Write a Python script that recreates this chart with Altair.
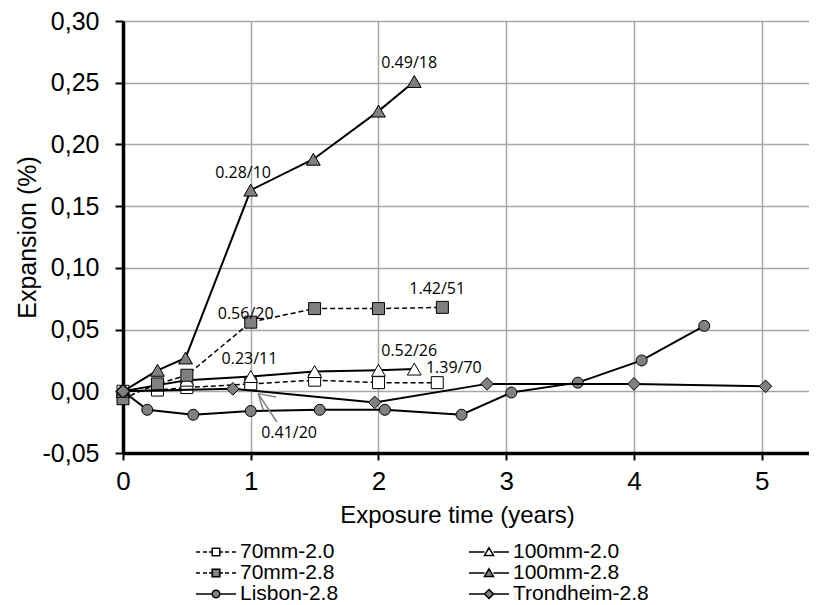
import altair as alt
import pandas as pd

# ---------------- data ----------------
series_names = ["70mm-2.0", "100mm-2.0", "70mm-2.8", "100mm-2.8", "Lisbon-2.8", "Trondheim-2.8"]

t_70mm_20 = [0.0, 0.27, 0.5, 1.0, 1.5, 2.0, 2.46]
e_70mm_20 = [0.000, 0.001, 0.003, 0.006, 0.009, 0.007, 0.007]

t_100mm_20 = [0.0, 0.27, 0.5, 1.0, 1.5, 2.0, 2.28]
e_100mm_20 = [0.000, 0.005, 0.009, 0.012, 0.016, 0.017, 0.018]

t_70mm_28 = [0.0, 0.27, 0.5, 1.0, 1.5, 2.0, 2.5]
e_70mm_28 = [-0.006, 0.006, 0.013, 0.056, 0.067, 0.067, 0.068]

t_100mm_28 = [0.0, 0.27, 0.49, 1.0, 1.49, 2.0, 2.28]
e_100mm_28 = [0.000, 0.017, 0.027, 0.163, 0.188, 0.227, 0.251]

t_lisbon = [0.0, 0.19, 0.55, 1.0, 1.54, 2.05, 2.65, 3.04, 3.56, 4.06, 4.55]
e_lisbon = [0.000, -0.015, -0.019, -0.016, -0.015, -0.015, -0.019, -0.001, 0.007, 0.025, 0.053]

t_trondheim = [0.0, 0.86, 1.97, 2.85, 4.0, 5.03]
e_trondheim = [0.000, 0.002, -0.009, 0.006, 0.006, 0.004]

annot_labels = ["0.49/18", "0.28/10", "0.56/20", "1.42/51", "0.23/11", "0.52/26", "1.39/70", "0.41/20"]
annot_x = [2.24, 0.94, 0.96, 2.46, 0.99, 2.24, 2.59, 1.30]
annot_y = [0.266, 0.177, 0.063, 0.0825, 0.026, 0.0325, 0.0192, -0.0338]

# arrow for the 0.41/20 label: shaft and two head strokes (start -> end)
arrow_x1 = [1.205, 1.058, 1.058]
arrow_y1 = [-0.0249, -0.0019, -0.0019]
arrow_x2 = [1.058, 1.098, 1.197]
arrow_y2 = [-0.0019, -0.0154, -0.0046]

x_ticks = [0, 1, 2, 3, 4, 5]
y_ticks = [-0.05, 0.0, 0.05, 0.10, 0.15, 0.20, 0.25, 0.30]

# legend order (filled column by column: left column, then right column)
legend_order = ["70mm-2.0", "70mm-2.8", "Lisbon-2.8", "100mm-2.0", "100mm-2.8", "Trondheim-2.8"]

# ---------------- styles ----------------
GRAY = "#808080"
styles = {
    "70mm-2.0": dict(shape="square", fill="white", dash=[5, 3], lw=1.5, size=144),
    "100mm-2.0": dict(shape="triangle-up", fill="white", dash=None, lw=2, size=190),
    "70mm-2.8": dict(shape="square", fill=GRAY, dash=[5, 3], lw=1.5, size=144),
    "100mm-2.8": dict(shape="triangle-up", fill=GRAY, dash=None, lw=2, size=190),
    "Lisbon-2.8": dict(shape="circle", fill=GRAY, dash=None, lw=2, size=121),
    "Trondheim-2.8": dict(shape="diamond", fill=GRAY, dash=None, lw=2, size=160),
}

DASHED = "M-2,0H-1.6M-1.3,0H-0.9M-0.7,0H-0.45M0.45,0H0.7M0.9,0H1.3M1.6,0H2"
SOLID = "M-2,0H-0.45M0.45,0H2"
SQUARE = "M-0.38,-0.38H0.38V0.38H-0.38Z"
TRIANGLE = "M0,-0.42L0.45,0.34H-0.45Z"
CIRCLE = "M-0.38,0A0.38,0.38,0,1,0,0.38,0A0.38,0.38,0,1,0,-0.38,0Z"
DIAMOND = "M-0.45,0L0,-0.45L0.45,0L0,0.45Z"
legend_path_of = {
    "70mm-2.0": DASHED + SQUARE,
    "100mm-2.0": SOLID + TRIANGLE,
    "70mm-2.8": DASHED + SQUARE,
    "100mm-2.8": SOLID + TRIANGLE,
    "Lisbon-2.8": SOLID + CIRCLE,
    "Trondheim-2.8": SOLID + DIAMOND,
}
legend_paths = [legend_path_of[n] for n in legend_order]
legend_fills = [styles[n]["fill"] for n in legend_order]

all_t = [t_70mm_20, t_100mm_20, t_70mm_28, t_100mm_28, t_lisbon, t_trondheim]
all_e = [e_70mm_20, e_100mm_20, e_70mm_28, e_100mm_28, e_lisbon, e_trondheim]
df = pd.concat(
    [pd.DataFrame({"series": n, "t": t, "e": e}) for n, t, e in zip(series_names, all_t, all_e)],
    ignore_index=True,
)
annot_df = pd.DataFrame({"label": annot_labels, "t": annot_x, "e": annot_y})
arrow_df = pd.DataFrame({"t": arrow_x1, "e": arrow_y1, "t2": arrow_x2, "e2": arrow_y2})

FONT = "Liberation Sans"
x_scale = alt.Scale(domain=[0, 5.37], nice=False, zero=False)
y_scale = alt.Scale(domain=[-0.05, 0.30], nice=False, zero=False)

x_axis = alt.Axis(
    values=x_ticks, format="d", title="Exposure time (years)",
    grid=True, gridColor="#a6a6a6", gridWidth=1.5,
    domainColor="black", domainWidth=3.5,
    tickColor="black", tickWidth=2, tickSize=7,
    labelFont=FONT, labelFontSize=26, labelColor="black", labelPadding=8, labelFlush=False,
    titleFont=FONT, titleFontSize=24, titleFontWeight="normal", titleColor="black",
    titlePadding=9, titleX=334,
)
y_axis = alt.Axis(
    values=y_ticks, title="Expansion (%)",
    labelExpr="(datum.value < 0 ? '-' : '') + replace(format(abs(datum.value), '.2f'), '.', ',')",
    grid=True, gridColor="#a6a6a6", gridWidth=1.5,
    domainColor="black", domainWidth=3.5,
    tickColor="black", tickWidth=2, tickSize=8,
    labelFont=FONT, labelFontSize=25, labelColor="black", labelPadding=16,
    titleFont=FONT, titleFontSize=25, titleFontWeight="normal", titleColor="black", titlePadding=2,
)

X = alt.X("t:Q", scale=x_scale, axis=x_axis)
Y = alt.Y("e:Q", scale=y_scale, axis=y_axis)

layers = []
for name in series_names:
    st = styles[name]
    sub = alt.Chart(df).transform_filter(alt.datum.series == name)
    line_kw = dict(color="black", strokeWidth=st["lw"])
    if st["dash"]:
        line_kw["strokeDash"] = st["dash"]
    layers.append(sub.mark_line(**line_kw).encode(x=X, y=Y, order="t:Q"))
    layers.append(
        sub.mark_point(
            shape=st["shape"], filled=True, fill=st["fill"], stroke="black",
            strokeWidth=1, size=st["size"], opacity=1,
        ).encode(x=X, y=Y)
    )

# legend-only layer (no visible marks)
legend_layer = (
    alt.Chart(df)
    .transform_filter("false")
    .mark_point(filled=True, strokeWidth=1.5, opacity=1)
    .encode(
        x=X, y=Y,
        shape=alt.Shape(
            "series:N",
            scale=alt.Scale(domain=legend_order, range=legend_paths),
            legend=alt.Legend(
                orient="none", legendX=82, legendY=520, columns=2, title=None,
                labelFont=FONT, labelFontSize=21, labelColor="black", labelOffset=13,
                symbolSize=400, symbolStrokeWidth=1.5,
                symbolOpacity=1, rowPadding=-1, columnPadding=127, labelLimit=300,
            ),
        ),
        fill=alt.Fill("series:N", scale=alt.Scale(domain=legend_order, range=legend_fills)),
        stroke=alt.Stroke("series:N", scale=alt.Scale(domain=legend_order, range=["black"] * 6)),
    )
)

text_layer = alt.Chart(annot_df).mark_text(
    font="Open Sans", fontSize=16, color="black", align="center", baseline="middle"
).encode(x=X, y=Y, text="label:N")

arrow_layer = alt.Chart(arrow_df).mark_rule(color="#7f7f7f", strokeWidth=1.5).encode(
    x=X, y=Y, x2="t2:Q", y2="e2:Q"
)

chart = (
    alt.layer(*layers, arrow_layer, text_layer, legend_layer)
    .properties(
        width=686, height=432,
        padding={"left": 115, "top": 13, "right": 0, "bottom": 150},
        autosize=alt.AutoSizeParams(type="none"),
    )
    .configure_view(strokeWidth=0)
)

chart.save("out.html", embed_options={"renderer": "svg", "actions": False})
